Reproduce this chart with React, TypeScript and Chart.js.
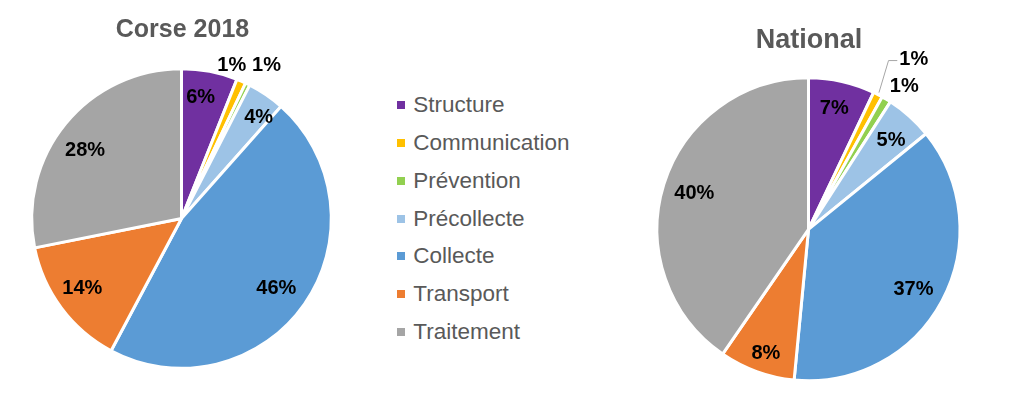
import React, { useEffect, useRef } from "react";
import { Chart, registerables } from "chart.js";

Chart.register(...registerables);

const categories = ["Structure", "Communication", "Prévention", "Précollecte", "Collecte", "Transport", "Traitement"];
const colors = ["#7030A0", "#FFC000", "#92D050", "#9DC3E6", "#5B9BD5", "#ED7D31", "#A5A5A5"];
const corseValues = [6, 1, 0.5, 4, 46, 14, 28];
const nationalValues = [7, 1, 1, 5, 37, 8, 40];
const corseTitle = "Corse 2018";
const nationalTitle = "National";

const FONT = 'Arial, "Liberation Sans", sans-serif';

const sliceLabelPlugin = {
  id: "sliceLabels",
  afterDatasetsDraw(chart: any, _args: any, opts: any) {
    const ctx = chart.ctx as CanvasRenderingContext2D;
    const meta = chart.getDatasetMeta(0);
    const data = chart.data.datasets[0].data as number[];
    const total = data.reduce((a, b) => a + b, 0);
    ctx.save();
    ctx.font = `bold ${opts.fontSize}px ${FONT}`;
    ctx.textAlign = "center";
    ctx.textBaseline = "middle";
    meta.data.forEach((arc: any, i: number) => {
      const { x, y, startAngle, endAngle, outerRadius } = arc.getProps(
        ["x", "y", "startAngle", "endAngle", "outerRadius"],
        true
      );
      const R = outerRadius - opts.borderInset;
      const mid = (startAngle + endAngle) / 2;
      const a = mid + (opts.shift[i] * Math.PI) / 180;
      const r = R * opts.radial[i];
      const lx = x + r * Math.cos(a);
      const ly = y + r * Math.sin(a);
      const text = Math.round((data[i] / total) * 100) + "%";
      const leader = opts.leaders ? opts.leaders[i] : null;
      if (leader) {
        const w = ctx.measureText(text).width;
        const sx = x + R * leader.start * Math.cos(mid);
        const sy = y + R * leader.start * Math.sin(mid);
        const ea = mid + (leader.shift * Math.PI) / 180;
        const ex = x + R * leader.elbow * Math.cos(ea);
        const ey = y + R * leader.elbow * Math.sin(ea);
        ctx.strokeStyle = opts.leaderColor;
        ctx.lineWidth = 1;
        ctx.beginPath();
        ctx.moveTo(sx, sy);
        ctx.lineTo(ex, ey);
        ctx.lineTo(lx - w / 2 - 2, ey);
        ctx.stroke();
      }
      ctx.fillStyle = opts.color;
      ctx.fillText(text, lx, ly + 1);
    });
    const cx = meta.data[0].x;
    ctx.font = `bold ${opts.titleSize}px ${FONT}`;
    ctx.fillStyle = opts.titleColor;
    ctx.textBaseline = "alphabetic";
    ctx.fillText(opts.title, cx + opts.titleDx, opts.titleBaseline);
    ctx.restore();
  },
};

function makePie(canvas: HTMLCanvasElement, values: number[], radius: number, padTop: number, labelOpts: any) {
  return new Chart(canvas, {
    type: "pie",
    data: {
      labels: categories,
      datasets: [
        {
          data: values,
          backgroundColor: colors,
          borderColor: "#FFFFFF",
          borderWidth: 3,
        },
      ],
    },
    options: {
      animation: false,
      responsive: false,
      events: [],
      radius: radius,
      layout: { padding: { top: padTop, left: 0, right: 0, bottom: 0 } },
      plugins: {
        legend: { display: false },
        tooltip: { enabled: false },
        title: { display: false },
        sliceLabels: labelOpts,
      } as any,
    } as any,
    plugins: [sliceLabelPlugin as any],
  });
}

export default function App() {
  const leftRef = useRef<HTMLCanvasElement>(null);
  const rightRef = useRef<HTMLCanvasElement>(null);

  useEffect(() => {
    const left = makePie(leftRef.current!, corseValues, 149.8, 39, {
      fontSize: 20,
      color: "#000000",
      borderInset: 1.5,
      radial: [0.83, 1.09, 1.185, 0.863, 0.79, 0.814, 0.8],
      shift: [-1.9, -5.4, 2.7, 2.7, 1.1, 1.9, -3.7],
      leaders: null,
      leaderColor: "#A6A6A6",
      title: corseTitle,
      titleSize: 25,
      titleColor: "#595959",
      titleDx: 1,
      titleBaseline: 36.5,
    });
    const right = makePie(rightRef.current!, nationalValues, 151.5, 60.6, {
      fontSize: 20,
      color: "#000000",
      borderInset: 1.5,
      radial: [0.83, 1.34, 1.15, 0.815, 0.805, 0.868, 0.8],
      shift: [-0.8, 4.3, 2.8, 0.6, 1.4, -0.9, 0.6],
      leaders: [null, { start: 1.025, elbow: 1.245, shift: -1.9 }, null, null, null, null, null],
      leaderColor: "#A6A6A6",
      title: nationalTitle,
      titleSize: 27,
      titleColor: "#595959",
      titleDx: 0.5,
      titleBaseline: 48.3,
    });
    return () => {
      left.destroy();
      right.destroy();
    };
  }, []);

  const rowH = 37.7;
  return (
    <div
      style={{
        position: "absolute",
        left: 0,
        top: 0,
        width: 1024,
        height: 398,
        background: "#FFFFFF",
        overflow: "hidden",
      }}
    >
      <canvas
        ref={leftRef}
        width={363}
        height={398}
        style={{ position: "absolute", left: 0, top: 0, width: 363, height: 398 }}
      />
      <canvas
        ref={rightRef}
        width={363}
        height={398}
        style={{ position: "absolute", left: 627, top: 0, width: 363, height: 398 }}
      />
      <div style={{ position: "absolute", left: 397, top: 105.5 - rowH / 2 }}>
        {categories.map((c, i) => (
          <div
            key={c}
            style={{
              display: "flex",
              alignItems: "center",
              height: rowH,
              font: `22.5px ${FONT}`,
              color: "#595959",
              whiteSpace: "nowrap",
            }}
          >
            <span
              style={{
                display: "inline-block",
                width: 8,
                height: 8,
                background: colors[i],
                marginRight: 8.3,
                flex: "none",
              }}
            />
            <span>{c}</span>
          </div>
        ))}
      </div>
    </div>
  );
}
